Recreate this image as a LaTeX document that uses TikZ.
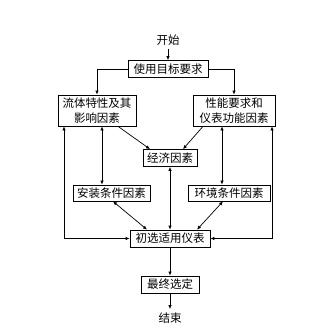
\documentclass[tikz,border=0pt]{standalone}
\usepackage{fontspec}
\setmainfont{Noto Sans CJK SC}
\usetikzlibrary{arrows.meta, calc}
\tikzset{
  every picture/.style={font=\fontsize{11.5}{14.5}\selectfont, line width=0.7pt},
  box/.style={draw, rectangle, align=center, inner sep=1pt, minimum height=#1},
  box/.default=17pt,
  arrow/.style={-{Latex[length=4pt,width=3.5pt]}},
  both/.style={{Latex[length=4pt,width=3.5pt]}-{Latex[length=4pt,width=3.5pt]}},
}

\begin{document}
\begin{tikzpicture}[x=1pt, y=-1pt]
  \useasboundingbox (0,0) rectangle (325,335);
  \node (start) at (168,40) {开始};
  \node[box, minimum width=80pt] (goal) at (168,69) {使用目标要求};
  \node[box=31pt, minimum width=78pt] (fluid) at (97,110.5) {流体特性及其\\影响因素};
  \node[box=31pt, minimum width=82pt] (perf) at (234,110.5) {性能要求和\\仪表功能因素};
  \node[box, minimum width=54pt] (econ) at (170,158) {经济因素};
  \node[box=16pt, minimum width=77pt] (install) at (111.5,193) {安装条件因素};
  \node[box=16pt, minimum width=82pt] (env) at (229,193) {环境条件因素};
  \node[box, minimum width=80pt] (prelim) at (170,238.5) {初选适用仪表};
  \node[box, minimum width=58pt] (final) at (170,284.5) {最终选定};
  \node (stop) at (170,318) {结束};
  % main flow
  \draw[arrow] (start) -- (goal);
  \draw[arrow] (goal.west) -| (fluid.north);
  \draw[arrow] (goal.east) -| (perf.north);
  \draw[arrow] ([xshift=21]fluid.south) -- ([xshift=-20]econ.north);
  \draw[arrow] ([xshift=-31]perf.south) -- ([xshift=13]econ.north);
  \draw[both] ([xshift=5]fluid.south) -- ([xshift=-9.5]install.north);
  \draw[both] ([xshift=-12]perf.south) -- ([xshift=-7]env.north);
  \draw[both] (econ) -- (prelim);
  \draw[both] ([xshift=1.5]install.south) -- ([xshift=-23]prelim.north);
  \draw[both] ([xshift=-6]env.south) -- ([xshift=27]prelim.north);
  % feedback loops
  \draw[both] ([xshift=-33]fluid.south) |- (prelim.west);
  \draw[both] ([xshift=38]perf.south) |- (prelim.east);
  \draw[arrow] (prelim) -- (final);
  \draw[arrow] (final) -- (stop);
\end{tikzpicture}
\end{document}
